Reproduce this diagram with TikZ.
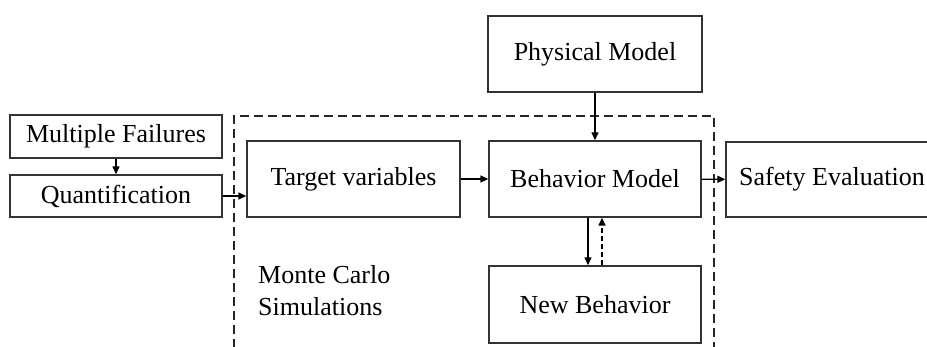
\documentclass[tikz,border=0pt]{standalone}
\usepackage{fontspec}
\setmainfont{Liberation Serif}
\usetikzlibrary{arrows.meta}
\begin{document}
\begin{tikzpicture}[x=1pt,y=-1pt,
  box/.style={draw=black!80, line width=1.4pt, rectangle, inner sep=0pt, minimum width=212pt, font=\fontsize{26}{32}\selectfont},
  conn/.style={line width=1.4pt, -{Stealth[length=8pt,width=7pt,inset=0pt]}},
  dconn/.style={conn, dash pattern=on 5pt off 3pt},
  frame/.style={line width=1.4pt, dash pattern=on 9pt off 5pt, draw=black!85}]
\useasboundingbox (0,0) rectangle (927,347);
\clip (0,0) rectangle (927,347);
\draw[frame] (234,362) -- (234,116) -- (714,116) -- (714,362);
\node[box, minimum height=43pt] (mf) at (116,136.5) {Multiple Failures};
\node[box, minimum height=42pt] (q) at (116,196) {Quantification};
\node[box, minimum width=213pt, minimum height=76pt] (tv) at (353.5,179) {Target variables};
\node[box, minimum height=76pt] (bm) at (595,179) {Behavior Model};
\node[box, minimum width=214pt, minimum height=76pt] (pm) at (595,54) {Physical Model};
\node[box, minimum height=75pt] (se) at (832,179.5) {Safety Evaluation};
\node[box, minimum height=77pt] (nb) at (595,304.5) {New Behavior};
\node[font=\fontsize{26}{32}\selectfont, align=left, anchor=north west, inner sep=0pt] (mc) at (258,265) {Monte Carlo\\Simulations};
\draw[conn] (mf) -- (q);
\draw[conn] (q.east) -- (q.east -| tv.west);
\draw[conn] (tv) -- (bm);
\draw[conn] (bm) -- (se);
\draw[conn] (pm) -- (bm);
\draw[conn] ([xshift=-7pt]bm.south) -- ([xshift=-7pt]nb.north);
\draw[dconn] ([xshift=7pt]nb.north) -- ([xshift=7pt]bm.south);
\end{tikzpicture}
\end{document}
